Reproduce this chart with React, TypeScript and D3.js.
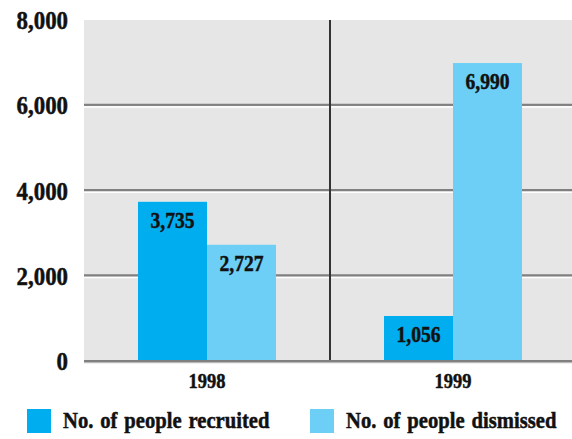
import React from "react";
import * as d3 from "d3";

const years = ["1998", "1999"];
const seriesNames = ["No. of people recruited", "No. of people dismissed"];
const recruited = [3735, 1056];
const dismissed = [2727, 6990];
const yTicks = [0, 2000, 4000, 6000, 8000];
const colors = ["#00AEEF", "#6DCFF6"];

const W = 572;
const H = 439;
const FONT = "'Liberation Serif', 'Times New Roman', serif";

function SText({ x, y, size, sx, anchor, children, ws = 0 }: any) {
  return (
    <g transform={`translate(${x},${y}) scale(${sx},1)`}>
      <text
        x={0}
        y={0}
        style={{ fontFamily: FONT, fontWeight: 700, fontSize: size, wordSpacing: ws }}
        textAnchor={anchor}
        fill="#111"
        stroke="#111"
        strokeWidth={0.5}
      >
        {children}
      </text>
    </g>
  );
}

export default function App() {
  const left = 84;
  const top = 20;
  const bottom = 361;
  const right = 576;
  const y = d3.scaleLinear().domain([0, 8000]).range([bottom, top]);
  const x0 = d3.scaleBand<string>().domain(years).range([left, right]).paddingInner(0).paddingOuter(0);
  const x1 = d3.scaleBand<number>().domain([0, 1]).range([54, x0.bandwidth() - 54]);
  const fmt = d3.format(",");
  const series = [recruited, dismissed];

  return (
    <svg width={W} height={H} style={{ position: "absolute", left: 0, top: 0 }}>
      <rect x={left} y={top} width={right - left} height={bottom - top} fill="#E6E6E6" />
      {yTicks.filter((t) => t > 0 && t < 8000).map((t) => (
        <g key={t}>
          <rect x={left} y={y(t) + 1} width={right - left} height={1.5} fill="#ffffff" />
          <rect x={left} y={y(t) - 1.5} width={right - left} height={2.2} fill="#808080" />
        </g>
      ))}
      <line x1={x0("1999")!} x2={x0("1999")!} y1={top} y2={bottom} stroke="#333" strokeWidth={2} />
      {years.map((yr, i) =>
        series.map((s, k) => {
          const bx = x0(yr)! + x1(k)!;
          const by = y(s[i]);
          return (
            <g key={yr + k}>
              <rect x={bx} y={by} width={x1.bandwidth()} height={bottom - by} fill={colors[k]} />
              <SText x={bx + x1.bandwidth() / 2} y={by + 26} size={23} sx={0.85} anchor="middle">
                {fmt(s[i])}
              </SText>
            </g>
          );
        })
      )}
      <rect x={left} y={bottom - 1} width={right - left} height={2.2} fill="#808080" />
      <rect x={left} y={bottom + 1.2} width={right - left} height={1} fill="#b0b0b0" />
      {yTicks.map((t) => (
        <SText key={t} x={68} y={y(t) + 9} size={26} sx={0.88} anchor="end">
          {fmt(t)}
        </SText>
      ))}
      {years.map((yr) => (
        <SText key={yr} x={x0(yr)! + x0.bandwidth() / 2} y={388} size={21} sx={0.88} anchor="middle">
          {yr}
        </SText>
      ))}
      {seriesNames.map((n, k) => {
        const lx = k === 0 ? 27 : 310;
        return (
          <g key={n}>
            <rect x={lx} y={409} width={24} height={24} fill={colors[k]} />
            <SText x={lx + 36} y={428} size={24} sx={0.86} anchor="start" ws={2}>
              {n}
            </SText>
          </g>
        );
      })}
    </svg>
  );
}
